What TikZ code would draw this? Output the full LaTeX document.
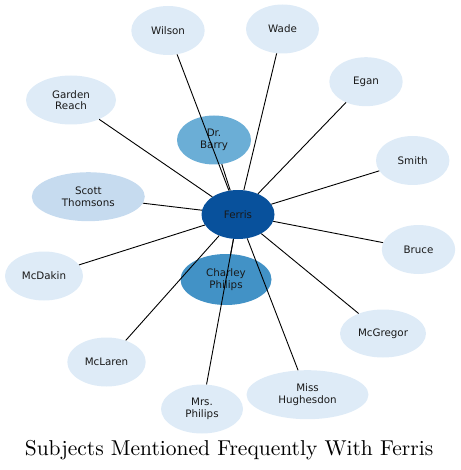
\documentclass[tikz,border=0pt]{standalone}
\usepackage{xcolor}
\usepackage{fontspec}
\usepackage{tikz}
\usetikzlibrary{shapes.geometric}
\newfontfamily\labelfont{DejaVu Sans}
\newfontfamily\titlefont{lmroman10-regular}[Extension=.otf]
\definecolor{BlueDeep}{HTML}{08519C}
\definecolor{BlueMid}{HTML}{4292C6}
\definecolor{BlueSoft}{HTML}{6BAED6}
\definecolor{BluePale}{HTML}{C6DBEF}
\definecolor{BlueFaint}{HTML}{DEEBF7}

\begin{document}
\begin{tikzpicture}[x=1pt,y=-1pt,
    subject/.style={ellipse,inner sep=0pt,minimum height=49pt,
      font=\labelfont\fontsize{10.3}{11.5}\selectfont,align=center,
      text=black!90,fill=BlueFaint},
    edge/.style={black,line width=0.9pt}]
  \useasboundingbox (0,0) rectangle (460,470);
  % hub and the darker subjects
  \node[subject,fill=BlueDeep,minimum width=73pt] (ferris) at (238,214.5) {Ferris};
  \node[subject,fill=BlueSoft,minimum width=74pt] (barry) at (214,140) {Dr.\\Barry};
  \node[subject,fill=BlueMid,minimum width=91pt,minimum height=51pt]
    (charley) at (226,279.5) {Charley\\Philips};
  \node[subject,fill=BluePale,minimum width=113pt] (scott) at (88.3,196.7) {Scott\\Thomsons};
  % outer ring
  \node[subject,minimum width=90pt] (garden) at (71,100) {Garden\\Reach};
  \node[subject,minimum width=78pt] (mcdakin) at (44,276) {McDakin};
  \node[subject,minimum width=73.4pt] (wilson) at (168,30.5) {Wilson};
  \node[subject,minimum width=73pt] (wade) at (282.5,29) {Wade};
  \node[subject,minimum width=73.4pt] (egan) at (366,81.7) {Egan};
  \node[subject,minimum width=73.4pt] (smith) at (412.7,160.5) {Smith};
  \node[subject,minimum width=73.4pt] (bruce) at (418.5,249.5) {Bruce};
  \node[subject,minimum width=86pt,minimum height=48pt] (mcgregor) at (383,333.5) {McGregor};
  \node[subject,minimum width=122pt] (hughesdon) at (307.5,394.7) {Miss\\Hughesdon};
  \node[subject,minimum width=82pt] (mrsphilips) at (202,409) {Mrs.\\Philips};
  \node[subject,minimum width=78.4pt] (mclaren) at (106.5,362) {McLaren};
  % links to the hub
  \foreach \who in {barry,charley,scott,garden,mcdakin,wilson,wade,egan,
                    smith,bruce,mcgregor,hughesdon,mrsphilips,mclaren}
    \draw[edge] (\who) -- (ferris);
  \node[anchor=base,font=\titlefont\fontsize{21.5}{24}\selectfont] (title) at (229,455)
    {Subjects Mentioned Frequently With Ferris};
\end{tikzpicture}
\end{document}
